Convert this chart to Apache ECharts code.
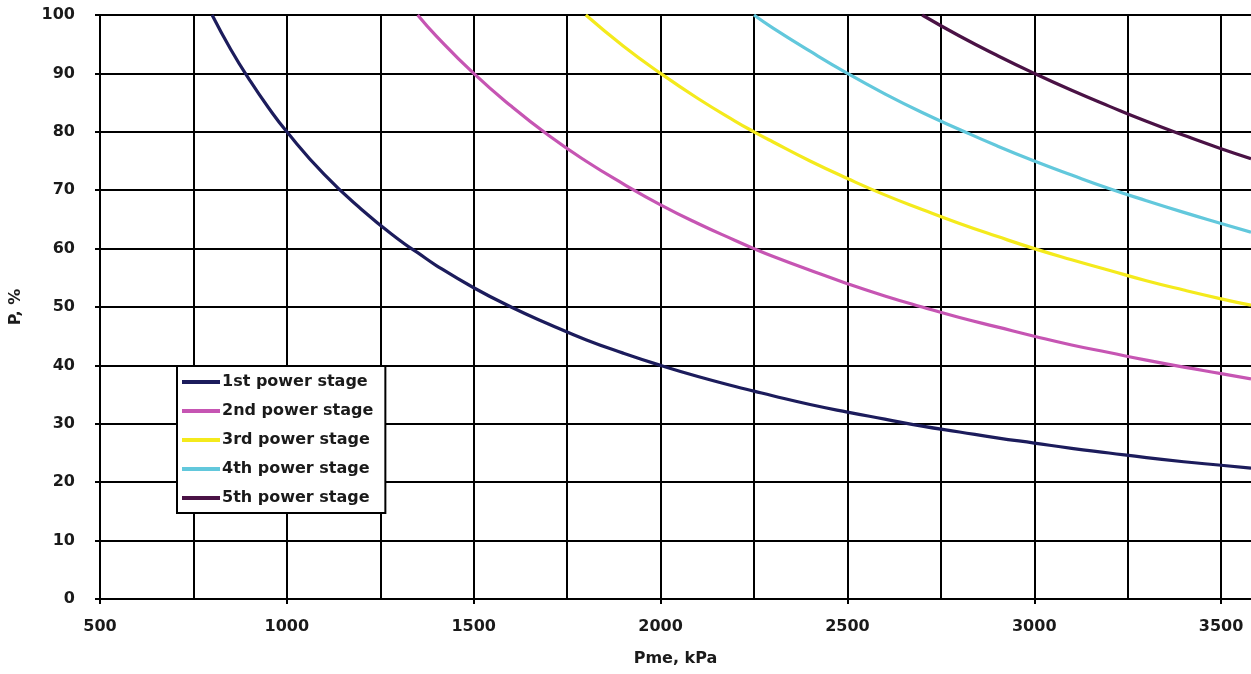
<!DOCTYPE html>
<html><head><meta charset="utf-8">
<script src="https://cdn.jsdelivr.net/npm/echarts@6/dist/echarts.min.js"></script>
<style>html,body{margin:0;padding:0;background:#fff}#c{width:1251px;height:674px}</style>
</head><body><div id="c"></div>
<script>
const pme = [800, 850, 900, 950, 1000, 1100, 1200, 1300, 1350, 1400, 1500, 1600, 1700, 1800, 1900, 2000, 2100, 2200, 2250, 2300, 2400, 2500, 2600, 2700, 2800, 2900, 3000, 3100, 3200, 3300, 3400, 3500, 3580];
const stage1 = [100, 94.1, 88.9, 84.2, 80, 72.7, 66.7, 61.5, 59.3, 57.1, 53.3, 50, 47.1, 44.4, 42.1, 40, 38.1, 36.4, 35.6, 34.8, 33.3, 32, 30.8, 29.6, 28.6, 27.6, 26.7, 25.8, 25, 24.2, 23.5, 22.9, 22.4];
const stage2 = [null, null, null, null, null, null, null, null, 100, 96.4, 90, 84.4, 79.4, 75, 71.1, 67.5, 64.3, 61.4, 60, 58.7, 56.3, 54, 51.9, 50, 48.2, 46.6, 45, 43.5, 42.2, 40.9, 39.7, 38.6, 37.7];
const stage3 = [null, null, null, null, null, null, null, null, null, null, null, null, null, 100, 94.7, 90, 85.7, 81.8, 80, 78.3, 75, 72, 69.2, 66.7, 64.3, 62.1, 60, 58.1, 56.3, 54.5, 52.9, 51.4, 50.3];
const stage4 = [null, null, null, null, null, null, null, null, null, null, null, null, null, null, null, null, null, null, 100, 97.8, 93.8, 90, 86.5, 83.3, 80.4, 77.6, 75, 72.6, 70.3, 68.2, 66.2, 64.3, 62.8];
const stage5 = [null, null, null, null, null, null, null, null, null, null, null, null, null, null, null, null, null, null, null, null, null, null, null, 100, 96.4, 93.1, 90, 87.1, 84.4, 81.8, 79.4, 77.1, 75.4];
const seriesNames = ['1st power stage', '2nd power stage', '3rd power stage', '4th power stage', '5th power stage'];
const seriesColors = ['#1c1c5c', '#c655b3', '#f4ea1c', '#62c8dc', '#4a1245'];
const xTickValues = [500, 1000, 1500, 2000, 2500, 3000, 3500];

const allStages = [stage1, stage2, stage3, stage4, stage5];
const font = {fontFamily: 'DejaVu Sans', fontWeight: 'bold', fontSize: 16, color: '#1a1a1a'};
const grid = {color: '#000', width: 2};
const chart = echarts.init(document.getElementById('c'));
chart.setOption({
  animation: false,
  backgroundColor: '#fff',
  grid: {left: 97, right: 0, top: 15, bottom: 75},
  legend: {
    orient: 'vertical', left: 177, top: 366,
    data: seriesNames, icon: 'rect', itemWidth: 38, itemHeight: 4, itemGap: 13,
    padding: [8, 12, 7, 5], borderColor: '#000', borderWidth: 2, backgroundColor: '#fff',
    textStyle: Object.assign({}, font, {padding: [0, 0, 0, -3]})
  },
  xAxis: [{
    type: 'value', min: 500, max: 3580, interval: 250,
    name: 'Pme, kPa', nameLocation: 'middle', nameGap: 52, nameTextStyle: Object.assign({}, font, {fontSize: 16}),
    axisLine: {show: true, lineStyle: {color: '#000', width: 2}},
    axisTick: {show: true, customValues: xTickValues, length: 5, lineStyle: grid},
    axisLabel: Object.assign({customValues: xTickValues, margin: 20, formatter: v => String(v)}, font),
    splitLine: {show: false}
  }, {
    type: 'value', min: 500, max: 3580, interval: 250, position: 'bottom',
    axisLine: {show: false}, axisTick: {show: false}, axisLabel: {show: false},
    splitLine: {show: true, showMinLine: false, showMaxLine: false, lineStyle: grid}
  }],
  yAxis: {
    type: 'value', min: 0, max: 100, interval: 10,
    name: 'P, %', nameLocation: 'middle', nameGap: 76, nameRotate: 90, nameTextStyle: Object.assign({}, font, {fontSize: 16}),
    axisLine: {show: true, lineStyle: {color: '#000', width: 2}},
    axisTick: {show: true, length: 5, lineStyle: grid},
    axisLabel: Object.assign({margin: 25}, font),
    splitLine: {show: true, lineStyle: grid}
  },
  series: seriesNames.map((n, i) => ({
    name: n, type: 'line', smooth: true, showSymbol: false, symbol: 'none', z: 5,
    lineStyle: {color: seriesColors[i], width: 3.2}, itemStyle: {color: seriesColors[i]},
    data: pme.map((x, j) => [x, allStages[i][j]]).filter(p => p[1] !== null)
  }))
});
</script></body></html>
